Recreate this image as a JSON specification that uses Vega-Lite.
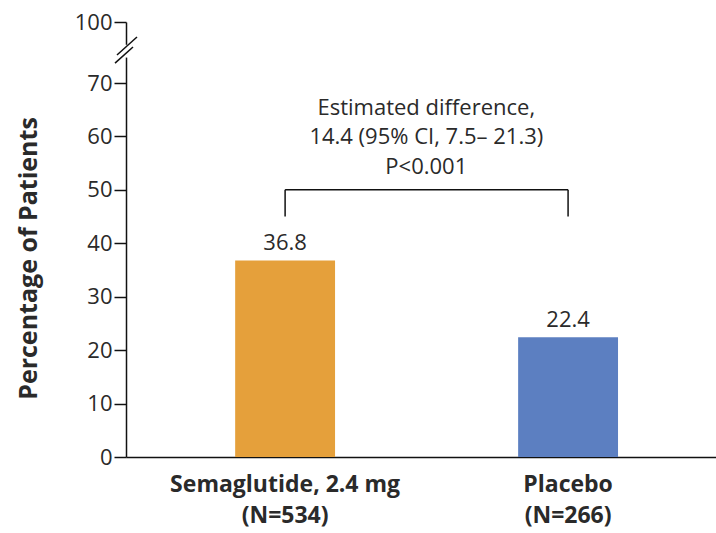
{
  "$schema": "https://vega.github.io/schema/vega-lite/v6.json",
  "width": 590,
  "height": 435,
  "autosize": {"type": "none"},
  "padding": {"left": 126, "top": 22, "right": 0, "bottom": 76},
  "background": "white",
  "config": {"view": {"stroke": null}, "font": "Open Sans"},
  "datasets": {
    "bars": [
      {"group": "Semaglutide, 2.4 mg", "pct": 36.8, "lo": 45, "hi": 50},
      {"group": "Placebo", "pct": 22.4, "lo": 45, "hi": 50}
    ],
    "span": [{"from": "Semaglutide, 2.4 mg", "to": "Placebo", "y": 50}],
    "notes": [
      {"text": "Estimated difference,", "x": 0.509, "y": 65.4},
      {"text": "14.4 (95% CI, 7.5\u2013 21.3)", "x": 0.509, "y": 59.9},
      {"text": "P<0.001", "x": 0.509, "y": 54.3}
    ],
    "gap": [{"x": 0, "y": 82.5, "y2": 88.8}],
    "slashes": [
      {"x": -0.0153, "x2": 0.0186, "y": 83.8, "y2": 92.6},
      {"x": -0.0186, "x2": 0.0119, "y": 79.8, "y2": 87.7}
    ]
  },
  "resolve": {"scale": {"x": "independent"}, "axis": {"x": "independent"}},
  "layer": [
    {
      "layer": [
        {
          "data": {"name": "bars"},
          "mark": {"type": "bar"},
          "encoding": {
            "x": {
              "field": "group",
              "type": "nominal",
              "scale": {"domain": ["Semaglutide, 2.4 mg", "Placebo"], "paddingInner": 0.647, "paddingOuter": 0.366, "align": 0.527},
              "axis": {
                "title": null,
                "labelAngle": 0,
                "ticks": false,
                "domainColor": "#111",
                "domainWidth": 1.5,
                "labelFont": "Open Sans",
                "labelFontWeight": "bold",
                "labelFontSize": 23,
                "labelColor": "#2a2a2a",
                "labelPadding": 16,
                "labelLineHeight": 31,
                "labelLimit": 0,
                "labelExpr": "datum.label == 'Placebo' ? ['Placebo', '(N=266)'] : [datum.label, '(N=534)']"
              }
            },
            "y": {
              "field": "pct",
              "type": "quantitative",
              "scale": {"domain": [0, 70, 100], "range": [435, 61, 0], "nice": false, "zero": false},
              "axis": {
                "title": "Percentage of Patients",
                "values": [0, 10, 20, 30, 40, 50, 60, 70, 100],
                "grid": false,
                "domainColor": "#111",
                "domainWidth": 1.5,
                "tickColor": "#111",
                "tickWidth": 1.5,
                "tickSize": 12,
                "labelFontSize": 22,
                "labelColor": "#2a2a2a",
                "labelPadding": 2,
                "titleFontSize": 25,
                "titleFontWeight": "bold",
                "titleColor": "#2a2a2a",
                "titleX": -98,
                "titleY": 236,
                "titleBaseline": "middle"
              }
            },
            "color": {
              "field": "group",
              "type": "nominal",
              "scale": {"domain": ["Semaglutide, 2.4 mg", "Placebo"], "range": ["#E5A03B", "#5C7FC1"]},
              "legend": null
            }
          }
        },
        {
          "data": {"name": "bars"},
          "mark": {"type": "text", "baseline": "bottom", "dy": -5, "fontSize": 22, "color": "#2a2a2a"},
          "encoding": {
            "x": {"field": "group", "type": "nominal"},
            "y": {"field": "pct", "type": "quantitative"},
            "text": {"field": "pct", "type": "quantitative", "format": ".1f"}
          }
        },
        {
          "data": {"name": "bars"},
          "mark": {"type": "rule", "color": "#111", "strokeWidth": 1.5},
          "encoding": {
            "x": {"field": "group", "type": "nominal"},
            "y": {"field": "lo", "type": "quantitative"},
            "y2": {"field": "hi"}
          }
        },
        {
          "data": {"name": "span"},
          "mark": {"type": "rule", "color": "#111", "strokeWidth": 1.5},
          "encoding": {
            "x": {"field": "from", "type": "nominal"},
            "x2": {"field": "to"},
            "y": {"field": "y", "type": "quantitative"}
          }
        }
      ]
    },
    {
      "layer": [
        {
          "data": {"name": "notes"},
          "mark": {"type": "text", "fontSize": 22, "color": "#2a2a2a", "baseline": "middle", "align": "center"},
          "encoding": {
            "x": {"field": "x", "type": "quantitative", "scale": {"domain": [0, 1], "nice": false, "zero": false}, "axis": null},
            "y": {"field": "y", "type": "quantitative"},
            "text": {"field": "text", "type": "nominal"}
          }
        },
        {
          "data": {"name": "gap"},
          "mark": {"type": "rule", "color": "white", "strokeWidth": 5},
          "encoding": {
            "x": {"field": "x", "type": "quantitative"},
            "y": {"field": "y", "type": "quantitative"},
            "y2": {"field": "y2"}
          }
        },
        {
          "data": {"name": "slashes"},
          "mark": {"type": "rule", "color": "#111", "strokeWidth": 1.5},
          "encoding": {
            "x": {"field": "x", "type": "quantitative"},
            "x2": {"field": "x2"},
            "y": {"field": "y", "type": "quantitative"},
            "y2": {"field": "y2"}
          }
        }
      ]
    }
  ]
}
